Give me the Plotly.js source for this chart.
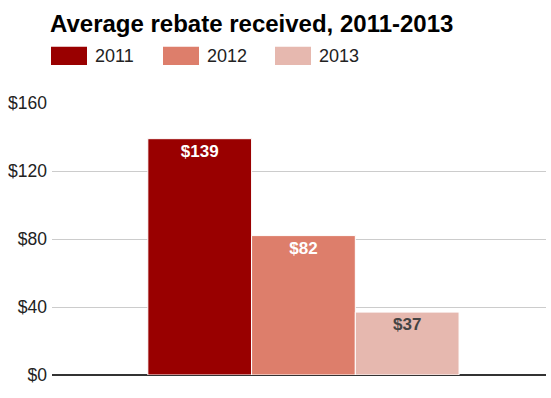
<!DOCTYPE html>
<html><head><meta charset="utf-8">
<script src="https://cdn.plot.ly/plotly-3.0.1.min.js"></script>
<style>body{margin:0;padding:0;background:#fff}#chart{width:551px;height:398px}</style>
</head><body><div id="chart"></div>
<script>
const categories = ['Average rebate'];
const years = ['2011', '2012', '2013'];
const rebate2011 = [139];
const rebate2012 = [82];
const rebate2013 = [37];
const seriesValues = [rebate2011, rebate2012, rebate2013];
const colors = ['#990000', '#dd7e6b', '#e6b8af'];
const labelColors = ['#ffffff', '#ffffff', '#444444'];
const yTicks = [0, 40, 80, 120, 160];

const FONT = 'Liberation Sans, Arial, sans-serif';

const traces = years.map((y, i) => ({
  type: 'bar',
  name: y,
  x: categories,
  y: seriesValues[i],
  marker: {color: colors[i], line: {color: '#ffffff', width: 1}},
  text: seriesValues[i].map(v => '$' + v),
  textposition: 'inside',
  insidetextanchor: 'end',
  textangle: 0,
  textfont: {family: FONT, size: 17, color: labelColors[i], weight: 'bold'},
  hoverinfo: 'none',
  showlegend: false
}));

// custom legend (large swatches like the reference); paper spans y 23..375, x 52..546
const PW = 494, PH = 352, PBOT = 375, PLEFT = 52;
const legendX = [51, 163, 275];
const shapes = [];
const annotations = [];
years.forEach((y, i) => {
  shapes.push({type: 'rect', xref: 'paper', yref: 'paper',
    x0: (legendX[i] - PLEFT) / PW, x1: (legendX[i] + 36 - PLEFT) / PW,
    y0: (PBOT - 65) / PH, y1: (PBOT - 46.7) / PH,
    fillcolor: colors[i], line: {width: 0}});
  annotations.push({xref: 'paper', yref: 'paper',
    x: (legendX[i] + 42 - PLEFT) / PW, y: (PBOT - 56) / PH,
    xanchor: 'left', yanchor: 'middle', showarrow: false,
    text: y, font: {family: FONT, size: 18, color: '#222222'}});
});

const layout = {
  width: 551, height: 398,
  margin: {l: 52, r: 5, t: 23, b: 23},
  paper_bgcolor: '#ffffff', plot_bgcolor: '#ffffff',
  title: {text: '<b>Average rebate received, 2011-2013</b>',
    font: {family: FONT, size: 24, color: '#000000'},
    xref: 'container', yref: 'container', x: 50 / 551, xanchor: 'left',
    y: 1 - 24 / 398, yanchor: 'middle'},
  barmode: 'group', bargap: 0.37, bargroupgap: 0,
  xaxis: {range: [-0.509, 0.491], showticklabels: false, showgrid: false,
    zeroline: false, showline: false, ticks: '', fixedrange: true},
  yaxis: {range: [0, 160], tickvals: yTicks, ticktext: yTicks.map(v => '$' + v),
    showgrid: true, gridcolor: '#cccccc', gridwidth: 1,
    zeroline: true, zerolinecolor: '#333333', zerolinewidth: 1.5,
    showline: false, ticks: '', ticklabelstandoff: 4,
    tickfont: {family: FONT, size: 17.5, color: '#222222'}, fixedrange: true,
    domain: [0, 272 / 352]},
  shapes: shapes,
  annotations: annotations,
  showlegend: false
};

Plotly.newPlot('chart', traces, layout, {displayModeBar: false, staticPlot: true});
</script></body></html>
